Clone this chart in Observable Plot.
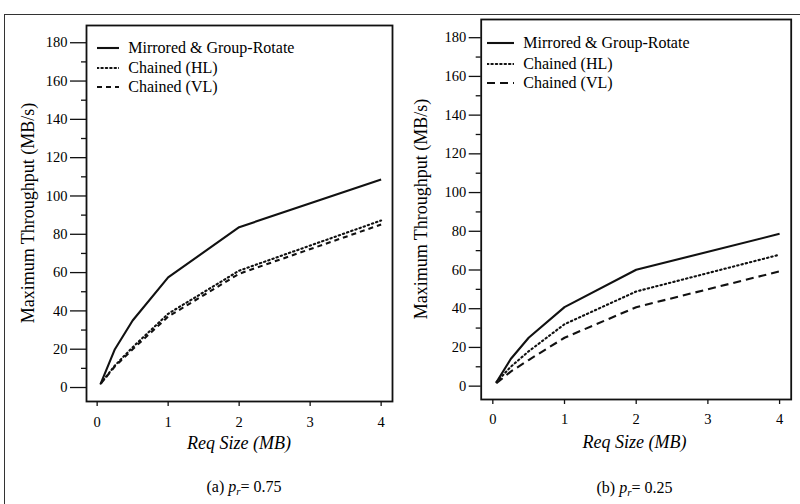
<!DOCTYPE html>
<html>
<head>
<meta charset="utf-8">
<script src="https://cdn.jsdelivr.net/npm/d3@7"></script>
<script src="https://cdn.jsdelivr.net/npm/@observablehq/plot@0.6"></script>
<style>
  html, body { margin: 0; padding: 0; background: #fff; }
  #root { position: relative; width: 800px; height: 504px; overflow: hidden; background: #fff;
          font-family: "Liberation Serif", "DejaVu Serif", serif; color: #000; }
  .abs { position: absolute; white-space: nowrap; }
  .frameOuter { position: absolute; left: 4px; top: 14px; width: 900px; height: 600px;
                border-top: 1.5px solid #333; border-left: 1.5px solid #333; }
  .panel { position: absolute; top: 0; }
  .panel svg text { font-family: "Liberation Serif", "DejaVu Serif", serif; }
  .ylab { font-size: 18px; line-height: 22px; width: 300px; text-align: center; transform: rotate(-90deg); }
  .xlab { font-size: 18px; line-height: 22px; width: 200px; text-align: center; font-style: italic; }
  .cap { font-size: 16px; line-height: 20px; width: 200px; text-align: center; }
  .leg { font-size: 16px; line-height: 20px; height: 20px; display: flex; align-items: center; }
</style>
</head>
<body>
<div id="root">
  <div class="frameOuter"></div>
</div>
<script>
// ---- data ----
const reqSize = [0.05, 0.25, 0.5, 1, 2, 4];
const seriesNames = ["Mirrored & Group-Rotate", "Chained (HL)", "Chained (VL)"];
const a_mirrored  = [2, 20, 35, 57.5, 83.7, 108.6];
const a_chainedHL = [2, 11.5, 21, 38.5, 61, 87.2];
const a_chainedVL = [2, 11, 20, 37, 59.4, 85.1];
const b_mirrored  = [2, 14, 25, 40.8, 60.1, 78.7];
const b_chainedHL = [2, 10, 18, 32, 48.9, 67.9];
const b_chainedVL = [1.5, 7.5, 13.5, 25, 40.8, 59.3];
const xTicks = [0, 1, 2, 3, 4];
const yTicks = [0, 20, 40, 60, 80, 100, 120, 140, 160, 180];
const yMinorTicks = [10, 30, 50, 70, 90, 110, 130, 150, 170];
const xLabel = "Req Size (MB)";
const yLabel = "Maximum Throughput (MB/s)";
const captions = [["(a) ", "0.75"], ["(b) ", "0.25"]];

function buildRows(seriesArrays) {
  const rows = [];
  seriesArrays.forEach((vals, si) => {
    vals.forEach((v, i) => rows.push({series: seriesNames[si], x: reqSize[i], y: v}));
  });
  return rows;
}

const panels = [
  {left: 0, series: [a_mirrored, a_chainedHL, a_chainedVL], dash: ["none", "1.4,3", "5,4"],
   m: {l: 86, r: 8, t: 25, b: 103}, xd: [-0.15, 4.16], yd: [-7.3, 189],
   tickY: 16, tickXPad: 10,
   ylabX: 27.5, xlabY: 442.7, capX: 244, capY: 487,
   leg: {x0: 96.7, len: 22, tx: 128.3, ys: [47.7, 68, 87.3]}},
  {left: 400, series: [b_mirrored, b_chainedHL, b_chainedVL], dash: ["none", "1.4,3", "8,5"],
   m: {l: 80.7, r: 9.3, t: 19, b: 105}, xd: [-0.162, 4.162], yd: [-6.9, 189.4],
   tickY: 12, tickXPad: 9,
   ylabX: 421, xlabY: 441.5, capX: 634.5, capY: 487.5,
   leg: {x0: 487.3, len: 27, tx: 523.3, ys: [43.3, 64, 83.3]}}
];

const root = document.getElementById("root");

panels.forEach((p, pi) => {
  const rows = buildRows(p.series);
  const marks = [
    Plot.frame({stroke: "#111", strokeWidth: 1.8}),
    Plot.axisY(yTicks, {tickSize: p.tickY, tickPadding: 3, label: null, stroke: "#111", strokeWidth: 1.3}),
    Plot.axisY(yMinorTicks, {tickSize: 5, tickFormat: () => "", label: null, stroke: "#111", strokeWidth: 1.3}),
    Plot.axisX(xTicks, {tickSize: 5, tickPadding: p.tickXPad, label: null, stroke: "#111", strokeWidth: 1.3}),
  ];
  seriesNames.forEach((name, si) => {
    marks.push(Plot.line(rows.filter(d => d.series === name), {
      x: "x", y: "y", stroke: "#111", strokeWidth: 2.1,
      strokeDasharray: p.dash[si], strokeLinecap: si === 1 ? "round" : "butt", strokeLinejoin: "round"
    }));
  });
  const chart = Plot.plot({
    width: 400, height: 504,
    marginLeft: p.m.l, marginRight: p.m.r, marginTop: p.m.t, marginBottom: p.m.b,
    x: {domain: p.xd},
    y: {domain: p.yd},
    style: {fontFamily: "'Liberation Serif', serif", fontSize: "14.5px", color: "#000", background: "transparent", overflow: "visible"},
    marks
  });
  const wrap = document.createElement("div");
  wrap.className = "panel";
  wrap.style.left = p.left + "px";
  wrap.appendChild(chart);
  root.appendChild(wrap);

  const yl = document.createElement("div");
  yl.className = "abs ylab";
  yl.textContent = yLabel;
  yl.style.left = (p.ylabX - 150) + "px";
  yl.style.top = ((p.m.t + (504 - p.m.b)) / 2 - 11) + "px";
  root.appendChild(yl);

  const xl = document.createElement("div");
  xl.className = "abs xlab";
  xl.textContent = xLabel;
  xl.style.left = (p.capX - 100 - (pi === 0 ? 5 : 0)) + "px";
  xl.style.top = (p.xlabY - 11) + "px";
  root.appendChild(xl);

  const cp = document.createElement("div");
  cp.className = "abs cap";
  cp.innerHTML = captions[pi][0] + '<i>p</i><sub style="font-size:11px;vertical-align:-3px;"><i>r</i></sub>= ' + captions[pi][1];
  cp.style.left = (p.capX - 100) + "px";
  cp.style.top = (p.capY - 10) + "px";
  root.appendChild(cp);

  seriesNames.forEach((name, si) => {
    const row = document.createElement("div");
    row.className = "abs leg";
    row.style.left = p.leg.x0 + "px";
    row.style.top = (p.leg.ys[si] - 10) + "px";
    const gap = p.leg.tx - p.leg.x0 - p.leg.len;
    const dash = p.dash[si] === "none" ? "" : `stroke-dasharray="${p.dash[si]}"`;
    const cap = si === 1 ? "round" : "butt";
    row.innerHTML = `<svg width="${p.leg.len}" height="20" style="margin-right:${gap}px"><line x1="0" x2="${p.leg.len}" y1="10" y2="10" stroke="#111" stroke-width="2.1" stroke-linecap="${cap}" ${dash}/></svg><span>${name.replace("&", "&amp;")}</span>`;
    root.appendChild(row);
  });
});
</script>
</body>
</html>
